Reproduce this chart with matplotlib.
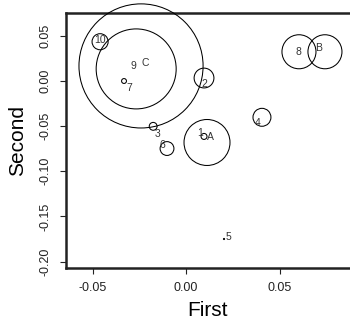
import matplotlib
matplotlib.use("Agg")
import matplotlib.pyplot as plt

plt.rcParams['font.family'] = ['Liberation Sans', 'DejaVu Sans']

# circles: centre x, centre y, radius (in units of the x axis)
circ_x = [-0.0241, -0.0267, -0.0460, -0.0332, -0.0176, -0.0102, 0.0096, 0.0096, 0.0112, 0.0406, 0.0604, 0.0743, 0.0203]
circ_y = [0.0167, 0.0134, 0.0435, 0.0000, -0.0502, -0.0748, 0.0033, -0.0614, -0.0681, -0.0402, 0.0324, 0.0324, -0.1750]
circ_r = [0.0332, 0.0214, 0.0043, 0.0013, 0.0021, 0.0037, 0.0053, 0.0016, 0.0123, 0.0048, 0.0091, 0.0091, 0.0003]

# labels
lab_text = ["10", "9", "C", "7", "3", "6", "2", "1", "A", "4", "8", "B", "5"]
lab_x = [-0.0460, -0.0283, -0.0219, -0.0305, -0.0155, -0.0128, 0.0096, 0.0075, 0.0128, 0.0385, 0.0599, 0.0711, 0.0225]
lab_y = [0.0458, 0.0167, 0.0201, -0.0078, -0.0592, -0.0714, -0.0033, -0.0580, -0.0625, -0.0469, 0.0324, 0.0368, -0.1730]

fig = plt.figure(figsize=(3.5, 3.23), dpi=100)
ax = fig.add_axes([65.7 / 350, (323 - 267.7) / 323, 1 - 65.7 / 350, (267.7 - 13.3) / 323])
ax.set_xlim(-0.0644, 0.0877)
ax.set_ylim(-0.2068, 0.075)

# radius in x units -> marker size in points^2
px_per_unit = ax.get_position().width * fig.get_figwidth() * fig.dpi / (0.0877 + 0.0644)
sizes = [(2 * r * px_per_unit * 72 / fig.dpi) ** 2 for r in circ_r]
ax.scatter(circ_x, circ_y, s=sizes, facecolors='none', edgecolors='black',
           linewidths=0.75, clip_on=False, zorder=3)

for t, x, y in zip(lab_text, lab_x, lab_y):
    ax.text(x, y, t, fontsize=7.5, color='#333333', ha='center', va='center', zorder=4)

ax.spines['right'].set_visible(False)
for s in ['left', 'bottom', 'top']:
    ax.spines[s].set_linewidth(1.8)
    ax.spines[s].set_color('#222222')

ax.set_xticks([-0.05, 0.00, 0.05])
ax.set_xticklabels(['-0.05', '0.00', '0.05'])
ax.set_yticks([-0.20, -0.15, -0.10, -0.05, 0.00, 0.05])
ax.set_yticklabels(['-0.20', '-0.15', '-0.10', '-0.05', '0.00', '0.05'], rotation=90, va='center')
ax.tick_params(direction='out', length=4, width=0.8, labelsize=9, colors='#222222', pad=6)

ax.set_xlabel('First', fontsize=15, labelpad=5)
ax.set_ylabel('Second', fontsize=15, labelpad=9)

fig.savefig('out.png', dpi=100)
